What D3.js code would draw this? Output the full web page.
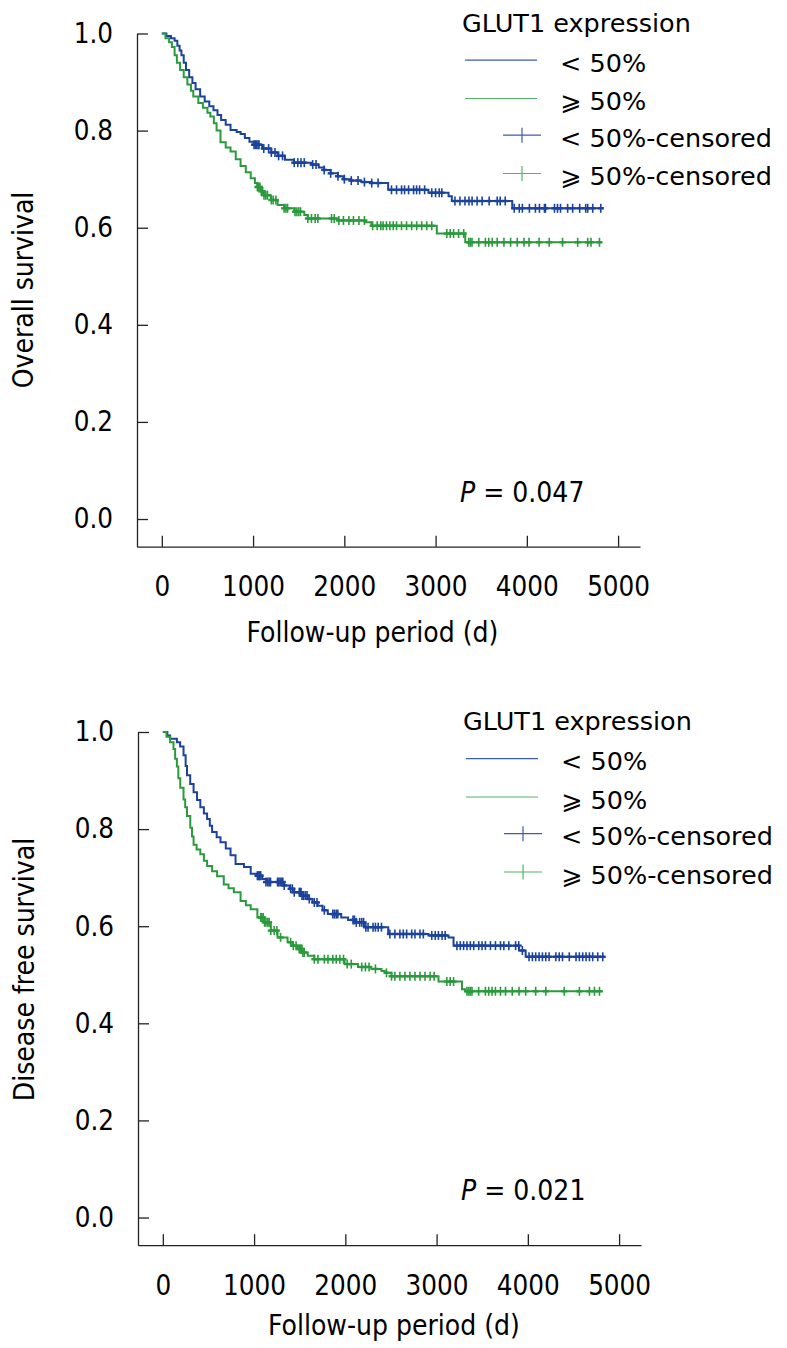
<!DOCTYPE html>
<html><head><meta charset="utf-8">
<script src="https://cdn.jsdelivr.net/npm/d3@7"></script>
<style>
body{margin:0;background:#fff}
svg{display:block}
.cond{font-family:"DejaVu Sans Condensed","DejaVu Sans",sans-serif;font-stretch:condensed}
.norm{font-family:"DejaVu Sans",sans-serif}
</style>
</head><body>
<svg id="c" width="787" height="1348"></svg>
<script>
// ---------------- data ----------------
const xTickValues = [0, 1000, 2000, 3000, 4000, 5000];
const yTickValues = [0.0, 0.2, 0.4, 0.6, 0.8, 1.0];
const legendTitle = "GLUT1 expression";
const legendLabels = ["< 50%", "\u2A7E 50%", "< 50%-censored", "\u2A7E 50%-censored"];

// Overall survival, GLUT1 < 50%  [day, survival]
const osLowSteps = [[0,1.0],[50,0.995],[100,0.99],[140,0.985],[170,0.975],[195,0.965],[215,0.955],[240,0.94],[265,0.925],[300,0.91],[335,0.898],[370,0.885],[420,0.87],[470,0.86],[520,0.85],[566,0.842],[610,0.832],[650,0.822],[700,0.812],[753,0.801],[820,0.797],[863,0.793],[910,0.785],[960,0.777],[1006,0.771],[1100,0.763],[1200,0.755],[1271,0.748],[1350,0.740],[1448,0.734],[1635,0.730],[1720,0.724],[1779,0.719],[1850,0.712],[1930,0.706],[1990,0.700],[2076,0.697],[2186,0.694],[2300,0.692],[2480,0.678],[2922,0.672],[3142,0.665],[3178,0.655],[3840,0.640]];
const osLowEnd = 4840;
const osLowCensor = [1010,1025,1040,1055,1065,1117,1170,1200,1240,1280,1323,1451,1490,1525,1561,1653,1690,1779,1850,1930,2000,2076,2150,2220,2300,2370,2517,2572,2627,2660,2704,2759,2792,2825,2880,2958,3000,3040,3068,3212,3267,3322,3366,3400,3455,3510,3587,3675,3708,3763,3862,3917,3951,4028,4094,4138,4193,4204,4303,4336,4369,4447,4502,4579,4645,4667,4722,4810];

// Overall survival, GLUT1 >= 50%
const osHighSteps = [[0,1.0],[40,0.99],[80,0.982],[110,0.972],[140,0.955],[165,0.94],[200,0.925],[240,0.91],[280,0.895],[320,0.882],[345,0.870],[400,0.857],[450,0.847],[500,0.837],[532,0.829],[570,0.815],[600,0.80],[643,0.776],[700,0.765],[753,0.757],[810,0.741],[863,0.727],[920,0.714],[974,0.702],[1020,0.692],[1047,0.684],[1085,0.675],[1120,0.667],[1194,0.657],[1268,0.647],[1340,0.640],[1451,0.633],[1561,0.626],[1598,0.619],[1929,0.615],[2223,0.611],[2297,0.604],[3013,0.588],[3325,0.570]];
const osHighEnd = 4814;
const osHighCensor = [1047,1060,1075,1090,1105,1120,1140,1158,1200,1220,1250,1340,1360,1378,1460,1480,1500,1520,1600,1640,1680,1710,1860,1890,1940,1990,2050,2100,2160,2220,2310,2360,2400,2425,2462,2499,2536,2572,2627,2682,2738,2793,2848,2903,2958,3123,3160,3197,3252,3308,3363,3380,3399,3473,3546,3583,3620,3675,3749,3822,3895,3969,4024,4134,4245,4391,4557,4667,4703,4796];

// Disease free survival, GLUT1 < 50%
const dfsLowSteps = [[0,1.0],[50,0.993],[80,0.986],[154,0.979],[190,0.97],[227,0.952],[250,0.93],[265,0.911],[300,0.893],[337,0.876],[375,0.86],[411,0.845],[450,0.832],[485,0.821],[515,0.807],[540,0.794],[590,0.783],[632,0.773],[690,0.76],[742,0.746],[797,0.728],[889,0.722],[963,0.708],[1036,0.704],[1090,0.697],[1129,0.691],[1330,0.684],[1390,0.677],[1440,0.670],[1520,0.663],[1588,0.656],[1640,0.649],[1698,0.642],[1750,0.633],[1808,0.625],[1955,0.618],[2030,0.613],[2101,0.608],[2212,0.598],[2470,0.584],[2911,0.581],[3131,0.577],[3186,0.560],[3903,0.550],[3976,0.537]];
const dfsLowEnd = 4840;
const dfsLowCensor = [1036,1045,1055,1065,1073,1130,1150,1165,1180,1257,1270,1285,1300,1315,1330,1400,1420,1440,1495,1505,1515,1525,1540,1560,1580,1605,1660,1690,1770,1863,1880,1900,1918,2084,2100,2120,2157,2180,2200,2225,2249,2304,2330,2360,2396,2488,2543,2598,2635,2672,2727,2763,2818,2855,2947,2985,3020,3060,3094,3223,3260,3296,3333,3370,3407,3462,3498,3535,3590,3645,3700,3737,3792,3866,3900,3940,4013,4050,4086,4123,4160,4196,4233,4307,4344,4380,4454,4528,4564,4601,4638,4675,4711,4766,4821];

// Disease free survival, GLUT1 >= 50%
const dfsHighSteps = [[0,1.0],[40,0.99],[80,0.979],[117,0.965],[135,0.945],[154,0.929],[170,0.905],[191,0.885],[227,0.861],[245,0.845],[265,0.827],[301,0.803],[320,0.785],[337,0.768],[370,0.758],[411,0.748],[450,0.735],[485,0.724],[540,0.713],[595,0.703],[668,0.686],[720,0.678],[778,0.670],[852,0.652],[910,0.643],[963,0.635],[1036,0.618],[1109,0.608],[1183,0.591],[1257,0.577],[1367,0.567],[1420,0.560],[1477,0.553],[1530,0.546],[1588,0.539],[1660,0.532],[1991,0.522],[2139,0.516],[2285,0.512],[2396,0.508],[2432,0.504],[2506,0.497],[3021,0.486],[3278,0.470],[3314,0.466]];
const dfsHighEnd = 4821;
const dfsHighCensor = [1073,1085,1100,1115,1130,1150,1165,1183,1220,1250,1290,1400,1430,1460,1495,1505,1515,1525,1535,1550,1660,1700,1770,1810,1863,1900,1940,1980,2020,2065,2180,2220,2260,2330,2451,2506,2543,2598,2653,2708,2763,2818,2873,2929,2973,3112,3149,3186,3333,3352,3370,3388,3461,3535,3571,3608,3645,3700,3755,3829,3903,3976,4086,4197,4399,4565,4675,4730,4785];

// ---------------- drawing ----------------
const BLUE = "#1b439c", GREEN = "#2a9a3c";
const BLUE_L = "#3d5ca8", GREEN_L = "#55b466";
const svg = d3.select("#c");

function survAt(steps, t) {
  const i = d3.bisector(d => d[0]).right(steps, t) - 1;
  return steps[Math.max(0, i)][1];
}

function drawChart(cfg) {
  const g = svg.append("g").attr("transform", `translate(${cfg.dx},${cfg.dy})`);
  const x = d3.scaleLinear().domain([-272, 5240]).range([137, 640]);
  const y = d3.scaleLinear().domain([-0.057, 1.0]).range([546.7, 33.5]);

  const ax = g.append("g").attr("transform", "translate(137,0)")
    .call(d3.axisLeft(y).tickValues(yTickValues).tickFormat(d3.format(".1f"))
      .tickSizeInner(-11).tickSizeOuter(0).tickPadding(24));
  const bx = g.append("g").attr("transform", "translate(0,546.7)")
    .call(d3.axisBottom(x).tickValues(xTickValues).tickFormat(d3.format("d"))
      .tickSizeInner(-11).tickSizeOuter(0).tickPadding(30));
  [ax, bx].forEach(a => {
    a.selectAll("path,line").attr("stroke", "#222").attr("stroke-width", 1.3);
    a.selectAll("text").attr("class", "cond").attr("font-size", 27.5).attr("fill", "#000");
  });

  const line = d3.line().x(d => x(d[0])).y(d => y(d[1])).curve(d3.curveStepAfter);
  cfg.series.forEach(s => {
    const pts = s.steps.concat([[s.end, s.steps[s.steps.length - 1][1]]]);
    g.append("path").attr("d", line(pts)).attr("fill", "none")
      .attr("stroke", s.color).attr("stroke-width", 2);
    const cg = g.append("g").attr("stroke", s.color).attr("stroke-width", 1.6);
    cg.selectAll("line.v").data(s.censor).join("line").attr("class", "v")
      .attr("x1", d => x(d)).attr("x2", d => x(d))
      .attr("y1", d => y(survAt(s.steps, d)) - 4.5).attr("y2", d => y(survAt(s.steps, d)) + 4.5);
    cg.selectAll("line.h").data(s.censor).join("line").attr("class", "h")
      .attr("x1", d => x(d) - 3).attr("x2", d => x(d) + 3)
      .attr("y1", d => y(survAt(s.steps, d))).attr("y2", d => y(survAt(s.steps, d)))
      .attr("stroke-width", 2.4);
  });

  // axis titles
  g.append("text").attr("class", "cond").attr("font-size", 28)
    .attr("text-anchor", "middle")
    .attr("transform", `translate(33,${cfg.yTitleY}) rotate(-90)`)
    .text(cfg.yTitle);
  g.append("text").attr("class", "cond").attr("font-size", 28)
    .attr("text-anchor", "middle").attr("x", cfg.xTitleX).attr("y", cfg.xTitleBase)
    .text("Follow-up period (d)");

  // P value
  const pt = g.append("text").attr("class", "cond").attr("font-size", 28)
    .attr("x", 460).attr("y", 501.7);
  pt.append("tspan").attr("font-style", "italic").text("P");
  pt.append("tspan").text(" = " + cfg.p);

  // legend
  const lg = g.append("g").attr("class", "norm").attr("font-size", 25.5);
  lg.append("text").attr("x", 462).attr("y", 31.7).text(legendTitle);
  const rows = [71.7, 110, 146.7, 185];
  const cols = [BLUE_L, GREEN_L, BLUE_L, GREEN_L];
  legendLabels.forEach((lab, i) => {
    const by = rows[i];
    const ly = by - 11.5;
    if (i < 2) {
      lg.append("line").attr("x1", 465).attr("x2", 537).attr("y1", ly).attr("y2", ly)
        .attr("stroke", cols[i]).attr("stroke-width", 1.2);
    } else {
      lg.append("line").attr("x1", 503).attr("x2", 541).attr("y1", ly).attr("y2", ly)
        .attr("stroke", cols[i]).attr("stroke-width", 1.2);
      lg.append("line").attr("x1", 522).attr("x2", 522).attr("y1", ly - 7.5).attr("y2", ly + 7.5)
        .attr("stroke", cols[i]).attr("stroke-width", 1.2);
    }
    lg.append("text").attr("x", 560).attr("y", by).text(lab);
  });
}

drawChart({
  dx: 0, dy: 0, yTitle: "Overall survival", yTitleY: 290, xTitleX: 372.5, xTitleBase: 641.5, p: "0.047",
  series: [
    {steps: osLowSteps, end: osLowEnd, censor: osLowCensor, color: BLUE},
    {steps: osHighSteps, end: osHighEnd, censor: osHighCensor, color: GREEN}
  ]
});
drawChart({
  dx: 1, dy: 698.5, yTitle: "Disease free survival", yTitleY: 271, xTitleX: 393, xTitleBase: 636.5, p: "0.021",
  series: [
    {steps: dfsLowSteps, end: dfsLowEnd, censor: dfsLowCensor, color: BLUE},
    {steps: dfsHighSteps, end: dfsHighEnd, censor: dfsHighCensor, color: GREEN}
  ]
});
</script>
</body></html>
